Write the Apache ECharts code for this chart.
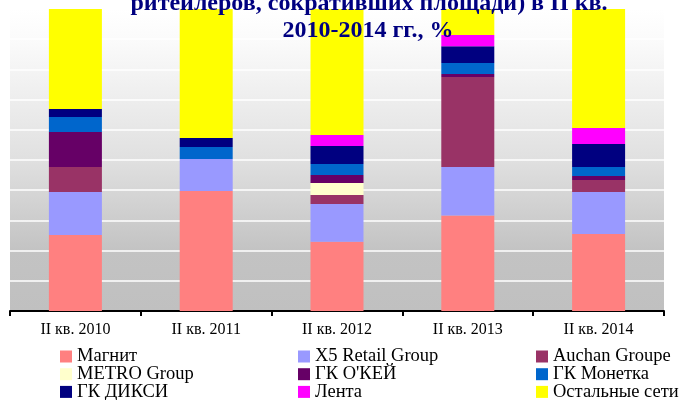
<!DOCTYPE html>
<html>
<head>
<meta charset="utf-8">
<script src="https://cdn.jsdelivr.net/npm/echarts@6/dist/echarts.min.js"></script>
<style>
  html, body { margin: 0; padding: 0; background: #fff; }
  #chart { width: 688px; height: 400px; }
</style>
</head>
<body>
<div id="chart"></div>
<script>
  // квартальные доли, %
  const categories = ['II кв. 2010', 'II кв. 2011', 'II кв. 2012', 'II кв. 2013', 'II кв. 2014']

  const magnit = [25.2, 39.7, 22.9, 31.6, 25.5]
  const x5 = [14.2, 10.6, 12.5, 16.1, 13.9]
  const auchan = [8.3, 0, 3.0, 29.8, 4.0]
  const metro = [0, 0, 4.0, 0, 0]
  const okey = [11.6, 0, 2.6, 1.0, 1.3]
  const monetka = [4.9, 4.0, 3.7, 3.6, 3.0]
  const dixy = [2.7, 3.0, 5.9, 5.6, 7.6]
  const lenta = [0, 0, 3.7, 3.7, 5.3]
  const others = [33.1, 42.7, 41.7, 8.6, 39.4]

  const seriesList = [
    { name: 'Магнит', data: magnit, color: '#FF8080' },
    { name: 'X5 Retail Group', data: x5, color: '#9999FF' },
    { name: 'Auchan Groupe', data: auchan, color: '#993366' },
    { name: 'METRO Group', data: metro, color: '#FFFFCC' },
    { name: 'ГК О\'КЕЙ', data: okey, color: '#660066' },
    { name: 'ГК Монетка', data: monetka, color: '#0066CC' },
    { name: 'ГК ДИКСИ', data: dixy, color: '#000080' },
    { name: 'Лента', data: lenta, color: '#FF00FF' },
    { name: 'Остальные сети', data: others, color: '#FFFF00' }
  ]

  const serif = '"Liberation Serif", "Times New Roman", serif'

  // легенда в три колонки
  function makeLegend(names, left) {
    return {
      data: names,
      orient: 'vertical',
      left: left,
      top: 347,
      width: 200,
      height: 70,
      padding: 0,
      itemGap: -1.3,
      itemWidth: 12,
      itemHeight: 12,
      icon: 'rect',
      selectedMode: false,
      textStyle: { fontFamily: serif, fontSize: 18.5, color: '#000', lineHeight: 17.3 }
    }
  }

  const chart = echarts.init(document.getElementById('chart'))
  chart.setOption({
    animation: false,
    graphic: [
      {
        type: 'text', x: 369, y: 4, z: 100,
        style: {
          text: 'ритейлеров, сокративших площади) в II кв.',
          font: 'bold 24px ' + serif, fill: '#000080',
          align: 'center', verticalAlign: 'middle'
        }
      },
      {
        type: 'text', x: 368, y: 30.5, z: 100,
        style: {
          text: '2010-2014 гг., %',
          font: 'bold 24px ' + serif, fill: '#000080',
          align: 'center', verticalAlign: 'middle'
        }
      }
    ],
    legend: [
      makeLegend(['Магнит', 'METRO Group', 'ГК ДИКСИ'], 60),
      makeLegend(['X5 Retail Group', 'ГК О\'КЕЙ', 'Лента'], 298),
      makeLegend(['Auchan Groupe', 'ГК Монетка', 'Остальные сети'], 536)
    ],
    grid: {
      left: 10,
      right: 24,
      top: 9,
      bottom: 89,
      show: true,
      borderWidth: 0,
      backgroundColor: {
        type: 'linear', x: 0, y: 0, x2: 0, y2: 1,
        colorStops: [
          { offset: 0, color: '#ffffff' },
          { offset: 0.1, color: '#fbfbfb' },
          { offset: 0.5, color: '#e0e0e0' },
          { offset: 0.8, color: '#c3c3c3' },
          { offset: 1, color: '#c0c0c0' }
        ]
      }
    },
    xAxis: {
      type: 'category',
      data: categories,
      axisLine: { lineStyle: { color: '#000', width: 2 } },
      axisTick: { show: true, length: 5, interval: 0, lineStyle: { color: '#000', width: 2 } },
      axisLabel: { fontFamily: serif, fontSize: 16, color: '#000', margin: 11 }
    },
    yAxis: {
      type: 'value',
      min: 0,
      max: 100,
      interval: 10,
      axisLabel: { show: false },
      axisLine: { show: false },
      axisTick: { show: false },
      splitLine: { lineStyle: { color: '#ffffff', width: 1.5 } }
    },
    series: seriesList.map((s) => {
      return {
        name: s.name,
        type: 'bar',
        stack: 'total',
        barWidth: 53,
        data: s.data,
        itemStyle: { color: s.color }
      }
    })
  })
</script>
</body>
</html>
